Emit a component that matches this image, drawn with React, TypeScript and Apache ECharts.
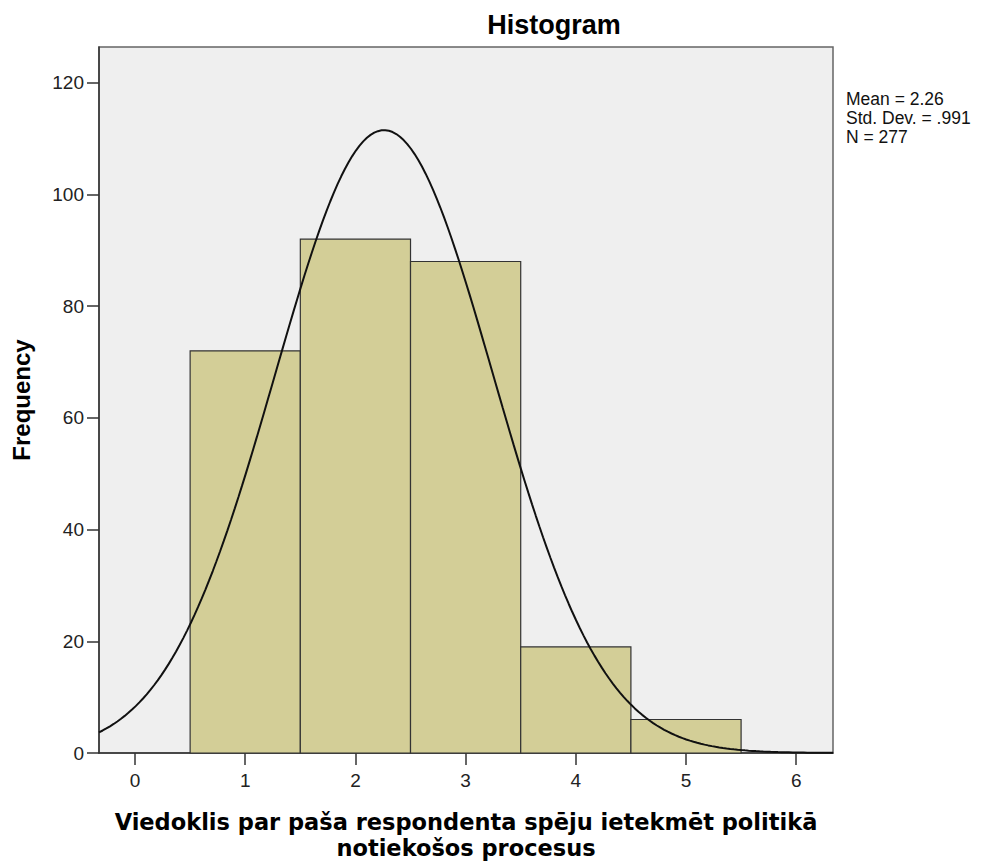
import React, { useEffect, useRef } from "react";
import * as echarts from "echarts";

const binCenters = [1, 2, 3, 4, 5];
const frequencies = [72, 92, 88, 19, 6];
const xTicks = [0, 1, 2, 3, 4, 5, 6];
const yTicks = [0, 20, 40, 60, 80, 100, 120];
const MEAN = 2.26;
const SD = 0.991;
const N = 277;
const BIN_WIDTH = 1;
const X_MIN = -0.327;
const X_MAX = 6.334;
const Y_MAX = 126.4;
const statsLines = ["Mean = 2.26", "Std. Dev. = .991", "N = 277"];
const xTitle = "Viedoklis par paša respondenta spēju ietekmēt politikā\nnotiekošos procesus";

// Fitted normal curve defined by the chart's own stated Mean, Std. Dev. and N
function normalCurve(): number[][] {
  const pts: number[][] = [];
  const steps = 200;
  for (let i = 0; i <= steps; i++) {
    const x = X_MIN + ((X_MAX - X_MIN) * i) / steps;
    const z = (x - MEAN) / SD;
    const y = (N * BIN_WIDTH) / (SD * Math.sqrt(2 * Math.PI)) * Math.exp(-0.5 * z * z);
    pts.push([x, y]);
  }
  return pts;
}

export default function App() {
  const ref = useRef<HTMLDivElement>(null);
  useEffect(() => {
    if (!ref.current) return;
    const chart = echarts.init(ref.current, null, { renderer: "svg" });
    const font = "'Liberation Sans', Arial, sans-serif";
    const bars = binCenters.map((c, i) => [c, frequencies[i]]);
    chart.setOption({
      animation: false,
      backgroundColor: "#ffffff",
      title: {
        text: "Histogram",
        left: 549,
        top: 6,
        textAlign: "center",
        textStyle: { fontFamily: font, fontSize: 27, fontWeight: "bold", color: "#000" },
      },
      grid: {
        left: 99,
        top: 47,
        width: 734,
        height: 710,
        show: true,
        backgroundColor: "#efefef",
        borderColor: "#666",
        borderWidth: 1.5,
      },
      xAxis: {
        type: "value",
        min: X_MIN,
        max: X_MAX,
        name: xTitle,
        nameLocation: "middle",
        nameGap: 56,
        nameTextStyle: {
          fontFamily: "'DejaVu Sans', Verdana, sans-serif",
          fontSize: 22.5,
          fontWeight: "bold",
          color: "#000",
          lineHeight: 26,
        },
        splitLine: { show: false },
        axisLine: { show: true, onZero: false, lineStyle: { color: "#333", width: 1.5 } },
        axisTick: { show: true, customValues: xTicks, length: 12, lineStyle: { color: "#333", width: 1.5 } },
        axisLabel: {
          customValues: xTicks,
          margin: 18,
          fontFamily: font,
          fontSize: 19,
          color: "#222",
        },
      },
      yAxis: {
        type: "value",
        min: 0,
        max: Y_MAX,
        name: "Frequency",
        nameLocation: "middle",
        nameGap: 66,
        nameRotate: 90,
        nameTextStyle: { fontFamily: font, fontSize: 24, fontWeight: "bold", color: "#000" },
        splitLine: { show: false },
        axisLine: { show: true, onZero: false, lineStyle: { color: "#333", width: 1.5 } },
        axisTick: { show: true, customValues: yTicks, length: 12, lineStyle: { color: "#333", width: 1.5 } },
        axisLabel: {
          customValues: yTicks,
          margin: 15,
          fontFamily: font,
          fontSize: 19,
          color: "#222",
        },
      },
      graphic: [
        {
          type: "text",
          left: 846,
          top: 89,
          style: {
            text: statsLines.join("\n"),
            fontFamily: font,
            fontSize: 17.5,
            lineHeight: 19,
            fill: "#111",
          },
        },
      ],
      series: [
        {
          type: "custom",
          data: bars,
          renderItem: (params: any, api: any) => {
            const x = api.value(0);
            const y = api.value(1);
            const p1 = api.coord([x - BIN_WIDTH / 2, y]);
            const p2 = api.coord([x + BIN_WIDTH / 2, 0]);
            return {
              type: "rect",
              shape: { x: p1[0], y: p1[1], width: p2[0] - p1[0], height: p2[1] - p1[1] },
              style: { fill: "#d3ce97", stroke: "#333", lineWidth: 1.2 },
            };
          },
          z: 2,
        },
        {
          type: "line",
          data: normalCurve(),
          showSymbol: false,
          symbol: "none",
          smooth: false,
          lineStyle: { color: "#111", width: 2 },
          z: 3,
        },
      ],
    });
    return () => chart.dispose();
  }, []);
  return (
    <div
      ref={ref}
      style={{ position: "fixed", left: 0, top: 0, width: 985, height: 866 }}
    />
  );
}
